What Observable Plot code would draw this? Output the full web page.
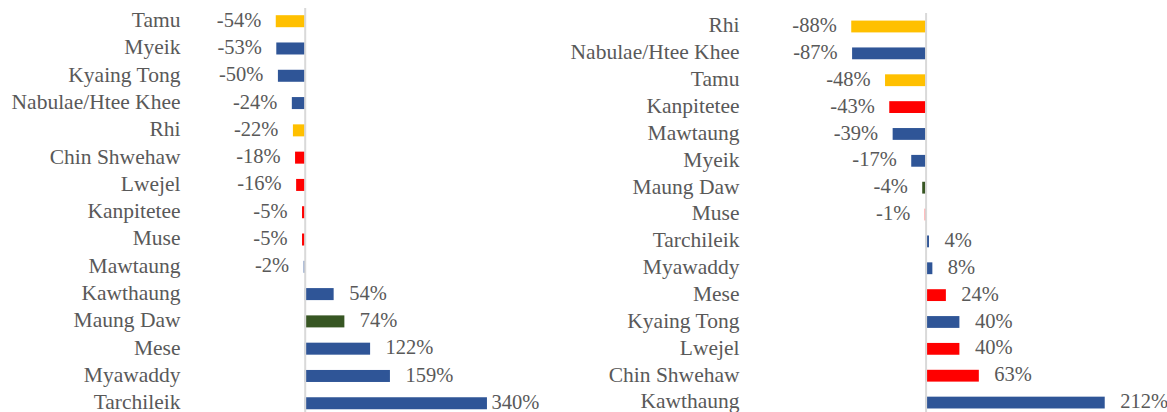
<!DOCTYPE html>
<html>
<head>
<meta charset="utf-8">
<script src="https://cdn.jsdelivr.net/npm/d3@7"></script>
<script src="https://cdn.jsdelivr.net/npm/@observablehq/plot@0.6"></script>
<style>
  html, body { margin: 0; padding: 0; background: #fff; }
  #wrap { position: relative; width: 1167px; height: 412px; overflow: hidden; }
  #left, #right { position: absolute; top: 0; }
  #left { left: 0; }
  #right { left: 583px; }
  svg { overflow: visible; }
</style>
</head>
<body>
<div id="wrap"><div id="left"></div><div id="right"></div></div>
<script>
// Left panel data
const leftNames = ["Tamu", "Myeik", "Kyaing Tong", "Nabulae/Htee Khee", "Rhi", "Chin Shwehaw", "Lwejel", "Kanpitetee", "Muse", "Mawtaung", "Kawthaung", "Maung Daw", "Mese", "Myawaddy", "Tarchileik"];
const leftValues = [-54, -53, -50, -24, -22, -18, -16, -5, -5, -2, 54, 74, 122, 159, 340];
const leftGroups = ["G2", "G1", "G1", "G1", "G2", "G3", "G3", "G3", "G3", "G1", "G1", "G4", "G1", "G1", "G1"];

// Right panel data
const rightNames = ["Rhi", "Nabulae/Htee Khee", "Tamu", "Kanpitetee", "Mawtaung", "Myeik", "Maung Daw", "Muse", "Tarchileik", "Myawaddy", "Mese", "Kyaing Tong", "Lwejel", "Chin Shwehaw", "Kawthaung"];
const rightValues = [-88, -87, -48, -43, -39, -17, -4, -1, 4, 8, 24, 40, 40, 63, 212];
const rightGroups = ["G2", "G1", "G2", "G3", "G1", "G1", "G4", "G3", "G1", "G1", "G3", "G1", "G3", "G3", "G1"];

const groupKeys = ["G1", "G2", "G3", "G4"];
const groupColors = ["#2F5597", "#FFC000", "#FF0000", "#375623"];

const FONT = "'Liberation Serif', 'DejaVu Serif', serif";
const TXT = "#595959";

function panel(names, values, groups, cfg) {
  const rows = names.map((n, i) => ({name: n, value: values[i], group: groups[i], label: values[i] + "%"}));
  const maxV = d3.max(values);
  return Plot.plot({
    width: cfg.width,
    height: 412,
    marginLeft: cfg.marginLeft,
    marginRight: 0,
    marginTop: cfg.marginTop,
    marginBottom: 0,
    style: {fontFamily: FONT, fontSize: "21px", color: TXT, background: "transparent"},
    x: {domain: cfg.xDomain, axis: null},
    y: {domain: names, range: cfg.yRange, paddingInner: 0.56, paddingOuter: 0.28, round: false, label: null},
    color: {type: "ordinal", domain: groupKeys, range: groupColors},
    marks: [
      Plot.axisY({tickSize: 0, tickPadding: 10, fontSize: 21.5, fill: TXT, label: null, dy: -1.5}),
      Plot.barX(rows, {x: "value", y: "name", fill: "group"}),
      Plot.ruleX([0], {stroke: "#d9d9d9", strokeWidth: 2}),
      Plot.text(rows.filter(d => d.value < 0), {x: "value", y: "name", text: "label", textAnchor: "end", dx: -15, dy: -1.5, fill: TXT, fontSize: 20.5}),
      Plot.text(rows.filter(d => d.value >= 0 && !(cfg.tightMax && d.value === maxV)), {x: "value", y: "name", text: "label", textAnchor: "start", dx: 15, dy: -1.5, fill: TXT, fontSize: 20.5}),
      Plot.text(rows.filter(d => cfg.tightMax && d.value === maxV), {x: "value", y: "name", text: "label", textAnchor: "start", dx: 4, dy: -1.5, fill: TXT, fontSize: 20.5})
    ]
  });
}

document.getElementById("left").append(panel(leftNames, leftValues, leftGroups, {
  width: 583, marginLeft: 190, marginTop: 8,
  xDomain: [-214.0, 519.2],
  yRange: [7.55, 416.9],
  tightMax: true
}));

document.getElementById("right").append(panel(rightNames, rightValues, rightGroups, {
  width: 584, marginLeft: 166, marginTop: 13,
  xDomain: [-209.0, 285.7],
  yRange: [13.07, 416.0],
  tightMax: false
}));
</script>
</body>
</html>
